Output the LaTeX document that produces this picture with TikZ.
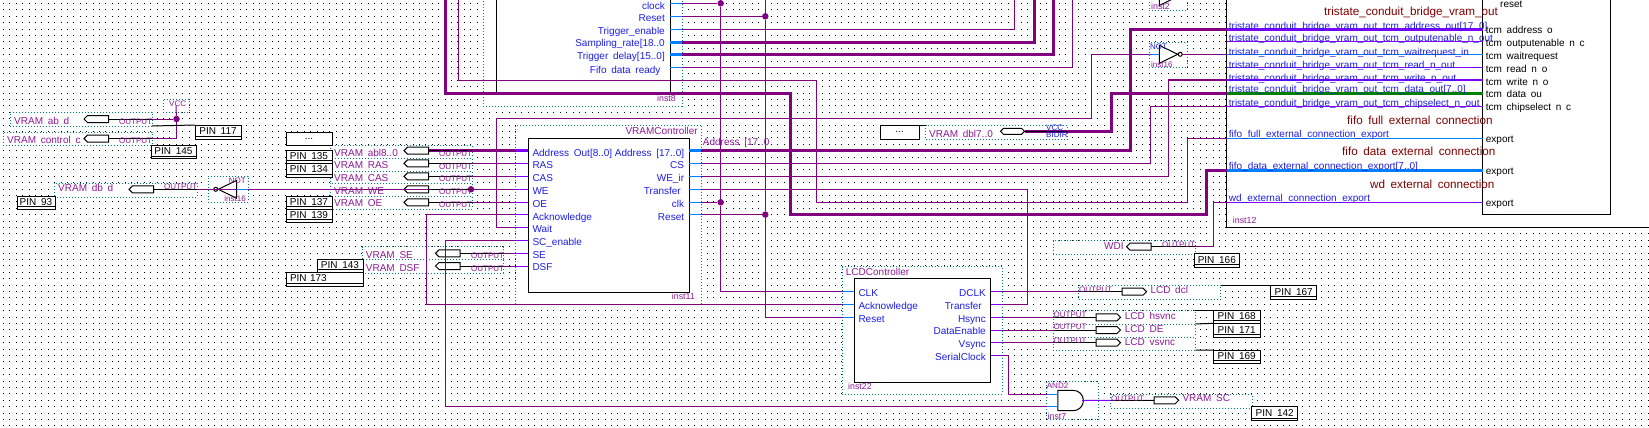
\documentclass[tikz,border=0pt]{standalone}
\usepackage{fontspec}
\setmainfont{Liberation Sans}[WordSpace=1.7]
\usetikzlibrary{positioning, shapes.symbols, shapes.gates.logic.US}
\definecolor{netwire}{HTML}{800080}
\definecolor{stubblue}{HTML}{0080FF}
\definecolor{stubviolet}{HTML}{8000FF}
\definecolor{netgreen}{HTML}{008000}
\definecolor{frameteal}{HTML}{008080}
\definecolor{labelpurple}{HTML}{8E1A96}
\definecolor{portblue}{HTML}{1E1EE6}
\definecolor{titlered}{HTML}{800000}
\begin{document}
\begin{tikzpicture}[
		x = 1pt,
		y = -1pt,
		griddots/.style = {line width = 1pt, dash pattern = on 1pt off 5.4pt},
		pinbox/.style = {draw, fill = white, line width = 1pt, inner sep = 0, outer sep = 0, anchor = north west, text height = 7.5pt, text depth = 2pt, font = \fontsize{10}{12}\selectfont, path picture = {\draw ([yshift = 2.5pt]path picture bounding box.south west) -- ([yshift = 2.5pt]path picture bounding box.south east);}},
		blankbox/.style = {draw, fill = white, line width = 1pt, inner sep = 0, outer sep = 0, anchor = north west, font = \fontsize{10}{12}\selectfont},
		dotbox/.style = {draw = frameteal, fill = white, line width = 1pt, dash pattern = on 1pt off 2pt, inner sep = 0, outer sep = 0, anchor = north west},
		block/.style = {draw, fill = white, line width = 1pt, inner sep = 0, outer sep = 0, anchor = north west},
		outpin/.style = {signal, signal to = east, draw, fill = white, line width = 1pt, inner sep = 0, outer sep = 0, minimum width = 24.5pt, minimum height = 7pt},
		inpin/.style = {signal, signal to = west, draw, fill = white, line width = 1pt, inner sep = 0, outer sep = 0, minimum width = 24.5pt, minimum height = 7pt},
		bidirpin/.style = {signal, signal to = west and east, draw, fill = white, line width = 1pt, inner sep = 0, outer sep = 0, minimum width = 24pt, minimum height = 6pt},
		junction/.style = {circle, fill = netwire, inner sep = 0, outer sep = 0, minimum size = 6.5pt},
		wire/.style = {draw = netwire, line width = 1pt},
		bus/.style = {draw = netwire, line width = 3pt},
		blackline/.style = {draw = black, line width = 1pt},
		stubb/.style = {draw = stubblue, line width = 1pt},
		stubv/.style = {draw = stubviolet, line width = 1pt},
		netlabel/.style = {inner sep = 0, anchor = mid west, text = labelpurple, font = \fontsize{10}{12}\selectfont},
		smalllabel/.style = {inner sep = 0, anchor = mid west, text = labelpurple, font = \fontsize{8}{9}\selectfont},
		instlabel/.style = {inner sep = 0, anchor = mid west, text = labelpurple, font = \fontsize{8.8}{10}\selectfont},
		portleft/.style = {inner sep = 0, anchor = mid west, text = portblue, font = \fontsize{10}{12}\selectfont},
		portright/.style = {inner sep = 0, anchor = mid east, text = portblue, font = \fontsize{10}{12}\selectfont},
		grouptitle/.style = {inner sep = 0, anchor = mid west, text = titlered, font = \fontsize{11.7}{14}\selectfont},
		tcmlabel/.style = {inner sep = 0, anchor = mid west, text = black, font = \fontsize{10}{12}\selectfont}
	]
	\useasboundingbox (0,0) rectangle (1649,428);
	\clip (0,0) rectangle (1649,428);
	\foreach \k in {0,...,66}
		\draw[griddots] (3,{3.5+6.4*\k}) -- (1649,{3.5+6.4*\k});

	\node[dotbox, minimum width = 198.7pt, minimum height = 116.7pt] (topframe) at (483.3,-10) {};
	\node[block, minimum width = 174pt, minimum height = 103.3pt] (topblock) at (496.3,-10) {};
	\node[dotbox, minimum width = 186pt, minimum height = 179pt] (vcframe) at (515.7,125.3) {};
	\node[block, minimum width = 161pt, minimum height = 154pt] (vcblock) at (528.3,138.3) {};
	\node[dotbox, minimum width = 160pt, minimum height = 127.3pt] (lcdframe) at (842.3,266.7) {};
	\node[block, minimum width = 136.7pt, minimum height = 104pt] (lcdblock) at (854,278.3) {};
	\node[block, minimum width = 470pt, minimum height = 237.3pt] (bridgeblock) at (1226.7,-10) {};
	\node[block, minimum width = 128pt, minimum height = 224.3pt] (ripblock) at (1482.7,-10) {};

	\node[dotbox, minimum width = 142pt, minimum height = 14pt] (vabframe) at (10,112) {};
	\node[dotbox, minimum width = 149pt, minimum height = 13pt] (vctlframe) at (3,132) {};
	\node[dotbox, minimum width = 26pt, minimum height = 13pt] (vccframe) at (163,99) {};
	\node[dotbox, minimum width = 143pt, minimum height = 14pt] (vdbframe) at (54,183) {};
	\node[dotbox, minimum width = 40pt, minimum height = 26pt] (notaframe) at (208,176) {};
	\node[dotbox, minimum width = 142pt, minimum height = 13pt] (vablframe) at (330,145) {};
	\node[dotbox, minimum width = 142pt, minimum height = 13pt] (vrasframe) at (330,158) {};
	\node[dotbox, minimum width = 142pt, minimum height = 12.5pt] (vcasframe) at (330,171) {};
	\node[dotbox, minimum width = 142pt, minimum height = 13pt] (vweframe) at (330,183) {};
	\node[dotbox, minimum width = 142pt, minimum height = 13pt] (voeframe) at (330,196) {};
	\node[dotbox, minimum width = 141pt, minimum height = 12.7pt] (vseframe) at (362,246.7) {};
	\node[dotbox, minimum width = 141pt, minimum height = 13.7pt] (vdsfframe) at (362,259.3) {};
	\node[dotbox, minimum width = 141.6pt, minimum height = 14pt] (vdblframe) at (925.7,125.3) {};
	\node[dotbox, minimum width = 141.7pt, minimum height = 13.6pt] (wdiframe) at (1053.3,240.7) {};
	\node[dotbox, minimum width = 142pt, minimum height = 14pt] (dclframe) at (1078.7,285.3) {};
	\node[dotbox, minimum width = 142pt, minimum height = 13.3pt] (hsframe) at (1053.3,310.7) {};
	\node[dotbox, minimum width = 142pt, minimum height = 13.3pt] (deframe) at (1053.3,324) {};
	\node[dotbox, minimum width = 142pt, minimum height = 12.7pt] (vsframe) at (1053.3,337.3) {};
	\node[dotbox, minimum width = 51.6pt, minimum height = 37.3pt] (andframe) at (1046.7,381.7) {};
	\node[dotbox, minimum width = 141.6pt, minimum height = 14pt] (vscframe) at (1110.7,394.3) {};
	\node[dotbox, minimum width = 38pt, minimum height = 25.4pt] (notbframe) at (1149.3,42.3) {};
	\node[dotbox, minimum width = 38pt, minimum height = 26.3pt] (notcframe) at (1149.3,-16) {};

	\node[pinbox, minimum width = 46pt, minimum height = 14pt] (pinOneSeventeen) at (195,125) {PIN 117};
	\node[pinbox, minimum width = 45pt, minimum height = 13.5pt] (pinOneFortyFive) at (151,145) {PIN 145};
	\node[pinbox, minimum width = 38pt, minimum height = 13pt] (pinNinetyThree) at (17,196) {PIN 93};
	\node[blankbox, minimum width = 46pt, minimum height = 13pt] (blankA) at (286,132) {...};
	\node[pinbox, minimum width = 46pt, minimum height = 13pt] (pinOneThirtyFive) at (286,150) {PIN 135};
	\node[pinbox, minimum width = 46pt, minimum height = 14pt] (pinOneThirtyFour) at (286,163) {PIN 134};
	\node[pinbox, minimum width = 46pt, minimum height = 13pt] (pinOneThirtySeven) at (286,196) {PIN 137};
	\node[pinbox, minimum width = 46pt, minimum height = 13pt] (pinOneThirtyNine) at (286,209) {PIN 139};
	\node[pinbox, minimum width = 46pt, minimum height = 13pt] (pinOneFortyThree) at (317,259) {PIN 143};
	\node[pinbox, minimum width = 77pt, minimum height = 14pt, text width = 69pt, align = left] (pinOneSeventyThree) at (286,272) {PIN 173};
	\node[blankbox, minimum width = 39.3pt, minimum height = 14pt] (blankB) at (880,125.3) {...};
	\node[pinbox, minimum width = 45pt, minimum height = 14pt] (pinOneSixtySix) at (1194.3,253.3) {PIN 166};
	\node[pinbox, minimum width = 46pt, minimum height = 14pt] (pinOneSixtySeven) at (1270.7,285.3) {PIN 167};
	\node[pinbox, minimum width = 46.7pt, minimum height = 12.6pt] (pinOneSixtyEight) at (1213.3,310.7) {PIN 168};
	\node[pinbox, minimum width = 46.7pt, minimum height = 14pt] (pinOneSeventyOne) at (1213.3,323.3) {PIN 171};
	\node[pinbox, minimum width = 46.7pt, minimum height = 13.3pt] (pinOneSixtyNine) at (1213.3,350) {PIN 169};
	\node[pinbox, minimum width = 46pt, minimum height = 14pt] (pinOneFortyTwo) at (1251.7,406.7) {PIN 142};

	\node[inpin] (pinVab) at (98,119) {};
	\node[inpin] (pinVctl) at (98,138.7) {};
	\node[inpin] (pinVdb) at (143,189.3) {};
	\node[inpin] (pinVabl) at (418,150.7) {};
	\node[inpin] (pinVras) at (418,163.3) {};
	\node[inpin] (pinVcas) at (418,176.3) {};
	\node[inpin] (pinVwe) at (418,189.3) {};
	\node[inpin] (pinVoe) at (418,202.3) {};
	\node[inpin] (pinVse) at (449.5,253.3) {};
	\node[inpin] (pinVdsf) at (449.5,266) {};
	\node[bidirpin] (pinVdbl) at (1012.5,131.3) {};
	\node[inpin] (pinWdi) at (1140.5,246.7) {};
	\node[outpin] (pinDcl) at (1132.5,291.7) {};
	\node[outpin] (pinHs) at (1106.5,317.3) {};
	\node[outpin] (pinDe) at (1106.5,330) {};
	\node[outpin] (pinVs) at (1106.5,342.7) {};
	\node[outpin] (pinVsc) at (1164.7,400.3) {};

	\node[not gate US, draw, fill = white, line width = 1pt, rotate = 180, anchor = input, minimum height = 13.3pt, minimum width = 21pt, inner sep = 0, outer sep = 0] (notA) at (236.7,189.3) {};
	\node[not gate US, draw, fill = white, line width = 1pt, anchor = input, minimum height = 13.3pt, minimum width = 21pt, inner sep = 0, outer sep = 0] (notB) at (1159.3,54.3) {};
	\node[not gate US, draw, fill = white, line width = 1pt, anchor = input, minimum height = 13.3pt, minimum width = 21pt, inner sep = 0, outer sep = 0] (notC) at (1159.3,-3.5) {};
	\node[and gate US, draw, fill = white, line width = 1pt, logic gate inputs = nn, minimum height = 20.4pt, minimum width = 23.7pt, inner sep = 0, outer sep = 0] (andA) at (1069.8,400.5) {};

	\node[junction] (jVcc) at (176.5,119) {};
	\node[junction] (jWe) at (471,189.3) {};
	\node[junction] (jClkTop) at (720.7,3.3) {};
	\node[junction] (jClkLow) at (720.7,202.3) {};
	\node[junction] (jRstTop) at (765.3,16.3) {};
	\node[junction] (jRstLow) at (765.3,214.6) {};

	\coordinate (topClock) at (670.3,3.3);
	\coordinate (topReset) at (670.3,16.3);
	\coordinate (topTrig) at (670.3,29.3);
	\coordinate (topRate) at (670.3,42.3);
	\coordinate (topDelay) at (670.3,54.3);
	\coordinate (topReady) at (670.3,67.3);
	\coordinate (vcAout) at (528.3,150.7);
	\coordinate (vcRas) at (528.3,163.3);
	\coordinate (vcCas) at (528.3,176.3);
	\coordinate (vcWe) at (528.3,189.3);
	\coordinate (vcOe) at (528.3,202.3);
	\coordinate (vcAck) at (528.3,214.3);
	\coordinate (vcWait) at (528.3,227.3);
	\coordinate (vcSc) at (528.3,240.3);
	\coordinate (vcSe) at (528.3,253.3);
	\coordinate (vcDsf) at (528.3,266);
	\coordinate (vcAddr) at (689.3,150);
	\coordinate (vcCs) at (689.3,163.3);
	\coordinate (vcWeir) at (689.3,176.3);
	\coordinate (vcTrans) at (689.3,189.3);
	\coordinate (vcClk) at (689.3,202.3);
	\coordinate (vcReset) at (689.3,214.6);
	\coordinate (lcdClk) at (854,291.7);
	\coordinate (lcdAck) at (854,304.3);
	\coordinate (lcdReset) at (854,317.3);
	\coordinate (lcdDclk) at (990.7,291.7);
	\coordinate (lcdTrans) at (990.7,304.3);
	\coordinate (lcdHs) at (990.7,317.3);
	\coordinate (lcdDe) at (990.7,330);
	\coordinate (lcdVs) at (990.7,342.7);
	\coordinate (lcdSer) at (990.7,355.3);
	\coordinate (brAddr) at (1226.7,29.3);
	\coordinate (brOen) at (1226.7,42);
	\coordinate (brWait) at (1226.7,54.3);
	\coordinate (brRead) at (1226.7,67.3);
	\coordinate (brWrite) at (1226.7,80);
	\coordinate (brData) at (1226.7,93.3);
	\coordinate (brChip) at (1226.7,106.3);
	\coordinate (brFull) at (1226.7,138.3);
	\coordinate (brFifo) at (1226.7,170.3);
	\coordinate (brWd) at (1226.7,202);
	\coordinate (ripAddr) at (1482.7,29.3);
	\coordinate (ripOen) at (1482.7,42);
	\coordinate (ripWait) at (1482.7,54.3);
	\coordinate (ripRead) at (1482.7,67.3);
	\coordinate (ripWrite) at (1482.7,80);
	\coordinate (ripData) at (1482.7,93.3);
	\coordinate (ripChip) at (1482.7,106.3);
	\coordinate (ripFull) at (1482.7,138.3);
	\coordinate (ripFifo) at (1482.7,170.3);
	\coordinate (ripWd) at (1482.7,202);
	\coordinate (andInA) at (1058,394.3);
	\coordinate (andInB) at (1058,406.3);
	\coordinate (andOut) at (1081.7,400.3);
	\coordinate (clkEntry) at (720.7,-3);
	\coordinate (rstEntry) at (765.3,-3);
	\coordinate (fifoEntry) at (445.3,-3);
	\coordinate (readyEntry) at (458.7,-3);
	\coordinate (trigEntry) at (1014.3,-3);
	\coordinate (rateEntry) at (1034.3,-3);
	\coordinate (delayEntry) at (1053.3,-3);
	\coordinate (topReadyEntry) at (1072.3,-3);
	\coordinate (busTurn) at (790.7,93.3);
	\coordinate (busRise) at (1206.7,214.3);
	\coordinate (readyTurn) at (816.7,80.3);
	\coordinate (readyRise) at (1187.7,202.3);
	\coordinate (waitDrop) at (496.5,227.3);
	\coordinate (waitTurn) at (1091.7,118.7);
	\coordinate (addrRise) at (1130.7,150);
	\coordinate (csRise) at (1150,163.3);
	\coordinate (weRise) at (1168.7,176.3);
	\coordinate (transDrop) at (1027.7,189.3);
	\coordinate (ackDrop) at (426.7,214.3);
	\coordinate (scDrop) at (445.3,240.3);
	\coordinate (dataRise) at (1111,131.3);
	\coordinate (wdDrop) at (1213.3,202);
	\coordinate (serDrop) at (1008.3,355.3);

	\draw[wire] (topClock) -- (jClkTop);
	\draw[wire] (topReset) -- (jRstTop);
	\draw[wire] (clkEntry) -- (jClkTop) -- (jClkLow) |- (lcdClk);
	\draw[wire] (rstEntry) -- (jRstTop) -- (jRstLow) |- (lcdReset);
	\draw[wire] (vcClk) -- (jClkLow);
	\draw[wire] (vcReset) -- (jRstLow);
	\draw[wire] (topTrig) -| (trigEntry);
	\draw[bus] (topRate) -| (rateEntry);
	\draw[bus] (topDelay) -| (delayEntry);
	\draw[wire] (topReady) -| (topReadyEntry);
	\draw[wire] (readyEntry) |- (readyTurn) |- (readyRise) |- (brFull);
	\draw[wire] (vcWait) -- (waitDrop) |- (waitTurn) |- (notB.input);
	\draw[wire] (vcCs) -| (csRise) |- (brChip);
	\draw[wire] (vcWeir) -| (weRise) |- (brWrite);
	\draw[wire] (vcTrans) -- (transDrop) |- (lcdTrans);
	\draw[wire] (vcAck) -- (ackDrop) |- (lcdAck);
	\draw[wire] (vcSc) -- (scDrop) |- (andInB);
	\draw[wire] (brWd) -- (wdDrop) |- (pinWdi.east);
	\draw[wire] (lcdSer) -- (serDrop) |- (andInA);
	\draw[wire] (lcdDclk) -- (pinDcl.west);
	\draw[wire] (lcdHs) -- (pinHs.west);
	\draw[wire] (lcdDe) -- (pinDe.west);
	\draw[wire] (lcdVs) -- (pinVs.west);
	\draw[wire] (notA.output) -- (jWe) -- (vcWe);
	\draw[wire] (notA.input) -- (pinVdb.east);
	\draw[wire] (jWe) -- (pinVwe.east);
	\draw[wire] (vccframe.center) -- (jVcc);
	\draw[wire] (jVcc) -- (pinVab.east);
	\draw[wire] (jVcc) |- (pinVctl.east);
	\draw[wire] (pinVras.east) -- (vcRas);
	\draw[wire] (pinVcas.east) -- (vcCas);
	\draw[wire] (pinVoe.east) -- (vcOe);
	\draw[wire] (pinVse.east) -- (vcSe);
	\draw[wire] (pinVdsf.east) -- (vcDsf);
	\draw[wire] (notB.output) -- (brWait);
	\draw[wire] (andA.output) -- (pinVsc.west);
	\draw[bus] (pinVabl.east) -- (vcAout);
	\draw[bus] (fifoEntry) |- (busTurn) |- (busRise) |- (brFifo);
	\draw[bus] (vcAddr) -- (addrRise) |- (brAddr);
	\draw[bus] (pinVdbl.east) -- (dataRise) |- (brData);

	\draw[blackline] (pinVab.east) -- (pinVab.east -| vabframe.east);
	\draw[blackline] (pinVctl.east) -- (pinVctl.east -| vctlframe.east);
	\draw[blackline] (pinVdb.east) -- (pinVdb.east -| vdbframe.east);
	\draw[blackline] (pinVabl.east) -- (pinVabl.east -| vablframe.east);
	\draw[blackline] (pinVras.east) -- (pinVras.east -| vrasframe.east);
	\draw[blackline] (pinVcas.east) -- (pinVcas.east -| vcasframe.east);
	\draw[blackline] (pinVwe.east) -- (pinVwe.east -| vweframe.east);
	\draw[blackline] (pinVoe.east) -- (pinVoe.east -| voeframe.east);
	\draw[blackline] (pinVse.east) -- (pinVse.east -| vseframe.east);
	\draw[blackline] (pinVdsf.east) -- (pinVdsf.east -| vdsfframe.east);
	\draw[blackline] (pinVdbl.east) -- (pinVdbl.east -| vdblframe.east);
	\draw[blackline] (pinWdi.east) -- (pinWdi.east -| wdiframe.east);
	\draw[blackline] (pinDcl.west) -- (pinDcl.west -| dclframe.west);
	\draw[blackline] (pinHs.west) -- (pinHs.west -| hsframe.west);
	\draw[blackline] (pinDe.west) -- (pinDe.west -| deframe.west);
	\draw[blackline] (pinVs.west) -- (pinVs.west -| vsframe.west);
	\draw[blackline] (pinVsc.west) -- (pinVsc.west -| vscframe.west);
	\draw[blackline] (vabframe.south east) -- (pinOneSeventeen.north west);
	\draw[blackline] (blankB.north east) -- (vdblframe.north west);
	\draw[blackline] (dclframe.north east) -- (pinOneSixtySeven.north west);
	\draw[blackline] (hsframe.north east) -- (pinOneSixtyEight.north west);
	\draw[blackline] (hsframe.south east) -- (pinOneSeventyOne.north west);
	\draw[blackline] (vsframe.south east) -- (pinOneSixtyNine.north west);

	\foreach \p in {topClock, topReset, topTrig, topReady, vcCs, vcWeir, vcTrans, vcClk, vcReset}
		\draw[stubb] (\p) -- +(12,0);
	\foreach \p in {topRate, topDelay, vcAddr}
		\draw[stubb, line width = 3pt] (\p) -- +(12,0);
	\foreach \p in {lcdClk, lcdAck, lcdReset, andInA, andInB}
		\draw[stubb] (\p) -- +(-11.5,0);
	\foreach \p in {vcRas, vcCas, vcWe, vcOe, vcAck, vcWait, vcSc, vcSe, vcDsf}
		\draw[stubv] (\p) -- +(-12.5,0);
	\draw[stubv, line width = 3pt] (vcAout) -- +(-12.5,0);
	\foreach \p in {lcdTrans, lcdHs, lcdDe, lcdVs, lcdSer}
		\draw[stubv] (\p) -- +(11.5,0);
	\draw[stubv] (lcdDclk) -- +(11.5,0);
	\draw[stubv] (andOut) -- (vscframe.west |- andOut);
	\draw[stubb] (notA.input) -- (notaframe.east |- notA.input);
	\draw[stubb] (notB.input) -- (notbframe.west |- notB.input);
	\draw[stubv, line width = 3pt] (brAddr) -- (ripAddr);
	\draw[stubv] (brOen) -- (ripOen);
	\draw[stubb] (brWait) -- (ripWait);
	\draw[stubv] (brRead) -- (ripRead);
	\draw[stubv] (brWrite) -- (ripWrite);
	\draw[netgreen, line width = 3pt] (brData) -- (ripData);
	\draw[stubv] (brChip) -- (ripChip);
	\draw[stubb] (brFull) -- (ripFull);
	\draw[stubb, line width = 3pt] (brFifo) -- (ripFifo);
	\draw[stubv] (brWd) -- (ripWd);

	\node[portright] (tClockL) at (665,6.7) {clock};
	\node[portright] (tResetL) at (665,18.7) {Reset};
	\node[portright] (tTrigL) at (665,32) {Trigger\_enable};
	\node[portright] (tRateL) at (665,44.3) {Sampling\_rate[18..0};
	\node[portright] (tDelayL) at (665,57.3) {Trigger delay[15..0]};
	\node[portright] (tReadyL) at (660.7,70.7) {Fifo data ready};
	\node[instlabel, anchor = mid east] (tInstL) at (676,98.7) {inst8};

	\node[netlabel, anchor = mid east] (vcTitle) at (698,131.7) {VRAMController};
	\node[netlabel] (addrNet) at (702.7,143.3) {Address [17..0};
	\node[portleft] (lAout) at (532.3,153.7) {Address Out[8..0]};
	\node[portleft] (lRas) at (532.3,166.3) {RAS};
	\node[portleft] (lCas) at (532.3,178.7) {CAS};
	\node[portleft] (lWe) at (532.3,191.7) {WE};
	\node[portleft] (lOe) at (532.3,204.7) {OE};
	\node[portleft] (lAck) at (532.3,217.7) {Acknowledge};
	\node[portleft] (lWait) at (532.3,230.3) {Wait};
	\node[portleft] (lSc) at (532.3,242.7) {SC\_enable};
	\node[portleft] (lSe) at (532.3,255.7) {SE};
	\node[portleft] (lDsf) at (532.3,268.3) {DSF};
	\node[portright] (rAddr) at (684.3,153.7) {Address [17..0]};
	\node[portright] (rCs) at (684.3,166) {CS};
	\node[portright] (rWeir) at (684.3,178.7) {WE\_ir};
	\node[portright] (rTrans) at (681,191.7) {Transfer};
	\node[portright] (rClk) at (684.3,204.7) {clk};
	\node[portright] (rReset) at (684.3,217.7) {Reset};
	\node[instlabel, anchor = mid east] (vcInst) at (695,297.3) {inst11};

	\node[netlabel] (lcdTitle) at (845.7,272.7) {LCDController};
	\node[portleft] (cClk) at (858.3,294.3) {CLK};
	\node[portleft] (cAck) at (858.3,307) {Acknowledge};
	\node[portleft] (cRst) at (858.3,319.7) {Reset};
	\node[portright] (cDclk) at (986,294.3) {DCLK};
	\node[portright] (cTrans) at (982,306.7) {Transfer};
	\node[portright] (cHs) at (986,319.7) {Hsync};
	\node[portright] (cDe) at (986,332.3) {DataEnable};
	\node[portright] (cVs) at (986,345.3) {Vsync};
	\node[portright] (cSer) at (986,358.3) {SerialClock};
	\node[instlabel] (lcdInst) at (848,386.7) {inst22};

	\node[netlabel] (tVab) at (14,121.7) {VRAM ab d};
	\node[netlabel] (tVctl) at (7,141) {VRAM control c};
	\node[netlabel] (tVdb) at (58,188.7) {VRAM db d};
	\node[netlabel] (tVabl) at (334,153.7) {VRAM abl8..0};
	\node[netlabel] (tVras) at (334,166.3) {VRAM RAS};
	\node[netlabel] (tVcas) at (334,178.7) {VRAM CAS};
	\node[netlabel] (tVwe) at (334,191.7) {VRAM WE};
	\node[netlabel] (tVoe) at (334,204.3) {VRAM OE};
	\node[netlabel] (tVse) at (365.7,255.7) {VRAM SE};
	\node[netlabel] (tVdsf) at (365.7,268.7) {VRAM DSF};
	\node[netlabel] (tVdbl) at (929,134.7) {VRAM dbl7..0};
	\node[netlabel] (tWdi) at (1104,246.7) {WDI};
	\node[netlabel] (tDcl) at (1150.3,291) {LCD dcl};
	\node[netlabel] (tHs) at (1124.7,317) {LCD hsvnc};
	\node[netlabel] (tDe) at (1124.7,330) {LCD DE};
	\node[netlabel] (tVs) at (1124.7,342.7) {LCD vsvnc};
	\node[netlabel] (tVsc) at (1182.3,399.3) {VRAM SC};

	\node[smalllabel] (oVab) at (119,122.3) {OUTPUT};
	\node[smalllabel] (oVctl) at (119,141) {OUTPUT};
	\node[smalllabel] (oVdb) at (164,186.7) {OUTPUT};
	\node[smalllabel] (oVabl) at (439,154) {OUTPUT};
	\node[smalllabel] (oVras) at (439,167) {OUTPUT};
	\node[smalllabel] (oVcas) at (439,179.3) {OUTPUT};
	\node[smalllabel] (oVwe) at (439,192.3) {OUTPUT};
	\node[smalllabel] (oVoe) at (439,205.3) {OUTPUT};
	\node[smalllabel] (oVse) at (471,256.3) {OUTPUT};
	\node[smalllabel] (oVdsf) at (471,269.3) {OUTPUT};
	\node[smalllabel] (oWdi) at (1162,245) {OUTPUT};
	\node[smalllabel] (oDcl) at (1079,290) {OUTPUT};
	\node[smalllabel] (oHs) at (1053.5,315.3) {OUTPUT};
	\node[smalllabel] (oDe) at (1053.5,327.3) {OUTPUT};
	\node[smalllabel] (oVs) at (1053.5,340.7) {OUTPUT};
	\node[smalllabel] (oVsc) at (1111,399) {OUTPUT};
	\node[smalllabel] (tVcc) at (169,104) {VCC};
	\node[smalllabel, anchor = mid east] (tNotA) at (246,181) {NOT};
	\node[smalllabel, anchor = mid east] (tInstA) at (246,199) {inst16};
	\node[smalllabel, text = portblue] (tNotB) at (1150,47) {NOT};
	\node[smalllabel] (tInstB) at (1151,64.7) {inst16};
	\node[instlabel] (tInstC) at (1151,6.7) {inst2};
	\node[smalllabel, text = portblue] (tVccB) at (1046,128.3) {VCC};
	\node[smalllabel, text = portblue] (tBidir) at (1046,135) {BIDIR};
	\node[smalllabel] (tAnd) at (1046.7,386) {AND2};
	\node[instlabel] (tInstD) at (1047.5,416.7) {inst7};

	\node[grouptitle] (gBridge) at (1324,12.7) {tristate\_conduit\_bridge\_vram\_out};
	\node[grouptitle] (gFull) at (1347,121.7) {fifo full external connection};
	\node[grouptitle] (gData) at (1342,153.3) {fifo data external connection};
	\node[grouptitle] (gWd) at (1370,185.7) {wd external connection};
	\node[portleft] (bAddr) at (1228.7,26.7) {tristate\_conduit\_bridge\_vram\_out\_tcm\_address\_out[17..0]};
	\node[portleft] (bOen) at (1228.7,39.3) {tristate\_conduit\_bridge\_vram\_out\_tcm\_outputenable\_n\_out};
	\node[portleft] (bWait) at (1228.7,52.7) {tristate\_conduit\_bridge\_vram\_out\_tcm\_waitrequest\_in};
	\node[portleft] (bRead) at (1228.7,65.7) {tristate\_conduit\_bridge\_vram\_out\_tcm\_read\_n\_out};
	\node[portleft] (bWrite) at (1228.7,78.7) {tristate\_conduit\_bridge\_vram\_out\_tcm\_write\_n\_out};
	\node[portleft] (bData) at (1228.7,90) {tristate\_conduit\_bridge\_vram\_out\_tcm\_data\_out[7..0]};
	\node[portleft] (bChip) at (1228.7,103.7) {tristate\_conduit\_bridge\_vram\_out\_tcm\_chipselect\_n\_out};
	\node[portleft] (bFull) at (1228.7,135.3) {fifo\_full\_external\_connection\_export};
	\node[portleft] (bFifo) at (1228.7,167) {fifo\_data\_external\_connection\_export[7..0]};
	\node[portleft] (bWd) at (1228.7,199.3) {wd\_external\_connection\_export};
	\node[instlabel] (bInst) at (1232.7,221) {inst12};

	\node[tcmlabel] (mReset) at (1500,5) {reset};
	\node[tcmlabel] (mAddr) at (1485.7,30.7) {tcm address o};
	\node[tcmlabel] (mOen) at (1485.7,43.7) {tcm outputenable n c};
	\node[tcmlabel] (mWait) at (1485.7,56.7) {tcm waitrequest};
	\node[tcmlabel] (mRead) at (1485.7,69.7) {tcm read n o};
	\node[tcmlabel] (mWrite) at (1485.7,82.7) {tcm write n o};
	\node[tcmlabel] (mData) at (1485.7,95) {tcm data ou};
	\node[tcmlabel] (mChip) at (1485.7,107.7) {tcm chipselect n c};
	\node[tcmlabel] (mFull) at (1485.7,140) {export};
	\node[tcmlabel] (mFifo) at (1485.7,172) {export};
	\node[tcmlabel] (mWd) at (1485.7,204) {export};
\end{tikzpicture}
\end{document}
